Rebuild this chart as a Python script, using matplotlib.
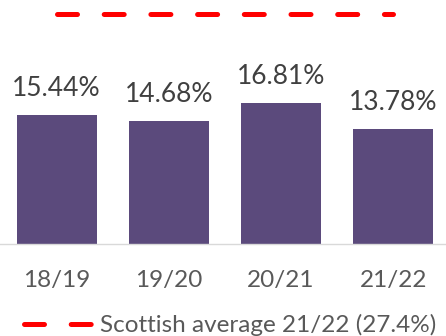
import matplotlib
matplotlib.use("Agg")
import matplotlib.pyplot as plt
import numpy as np

plt.rcParams['font.family'] = ['Lato', 'DejaVu Sans']

years = ['18/19', '19/20', '20/21', '21/22']
rates = [15.44, 14.68, 16.81, 13.78]
scottish_avg = 27.4
avg_label = 'Scottish average 21/22 (27.4%)'

BAR_COLOR = '#5B4A7C'
RED = '#FF0000'

fig = plt.figure(figsize=(4.46, 3.36), dpi=100)
ax = fig.add_axes([0, 92 / 336, 1, 238.8 / 336])

x = np.arange(len(years))
ax.bar(x, rates, width=0.713, color=BAR_COLOR, zorder=2)

for i, v in enumerate(rates):
    ax.annotate(f'{v:.2f}%', (i, v), xytext=(0, 13.7), textcoords='offset points',
                ha='center', va='baseline', fontsize=19, color='#404040')

avg_line, = ax.plot(x, [scottish_avg] * len(x), color=RED, lw=3.6,
                    linestyle=(0, (4, 5.34)), dash_capstyle='round',
                    label=avg_label, zorder=3)

ax.set_xlim(-0.504, 3.47)
ax.set_ylim(0, 28.5)
ax.set_xticks(x)
ax.set_xticklabels(years)
ax.tick_params(axis='x', length=0, pad=19, labelsize=17.5, labelcolor='#595959')
ax.set_yticks([])
for side in ['top', 'left', 'right']:
    ax.spines[side].set_visible(False)
ax.spines['bottom'].set_color('#D9D9D9')
ax.spines['bottom'].set_linewidth(1)

fig.legend(handles=[avg_line], loc='center', bbox_to_anchor=(0.516, 1 - 325 / 336),
           frameon=False, fontsize=17.5, labelcolor='#595959',
           handlelength=3.1, handletextpad=0.05, borderpad=0, borderaxespad=0)

fig.savefig('out.png', dpi=100)
